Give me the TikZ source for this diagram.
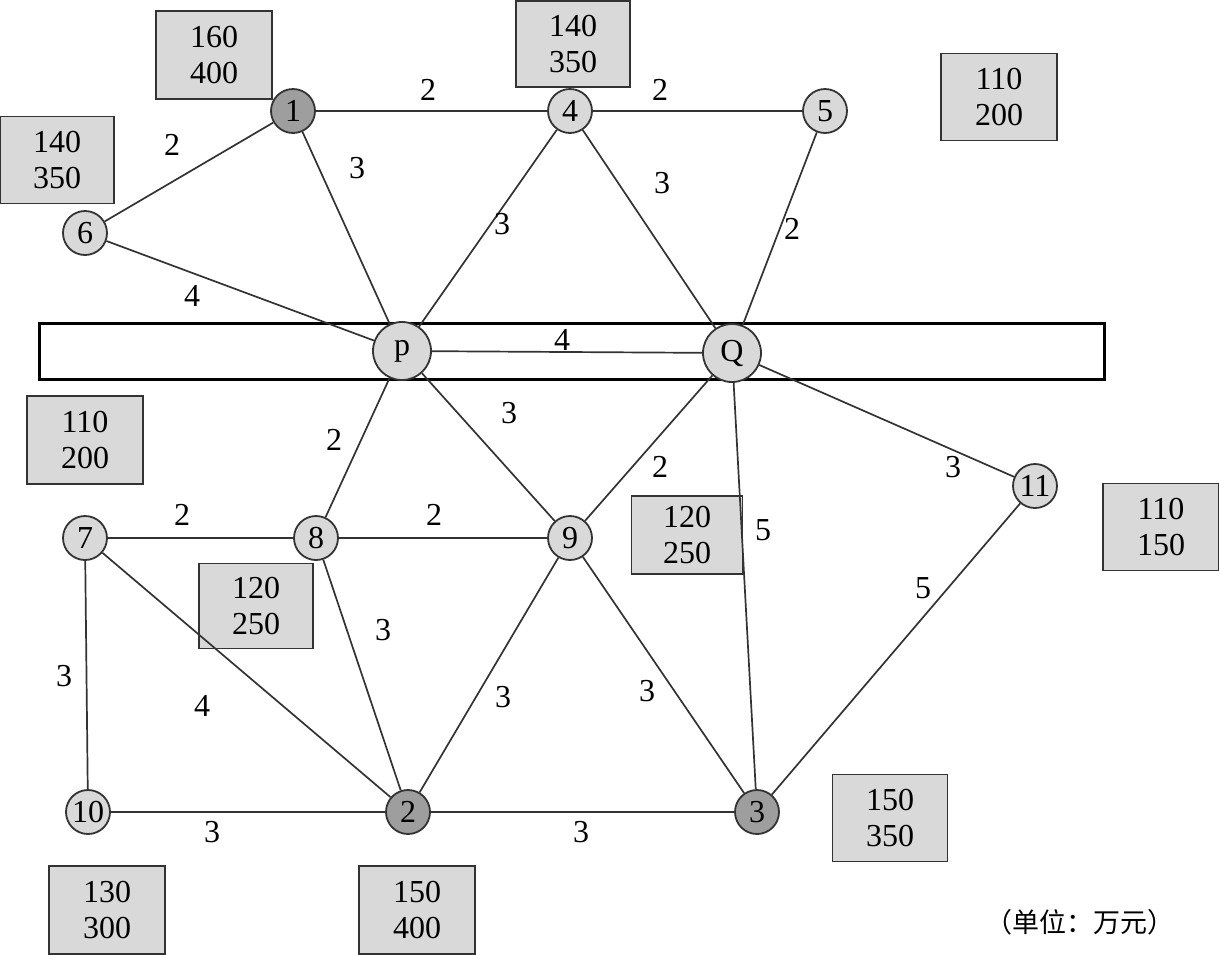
\documentclass[tikz,border=0pt]{standalone}
\usepackage{fontspec}
\setmainfont{Liberation Serif}
\newfontfamily\cjk{Noto Sans CJK SC}
\begin{document}
\begin{tikzpicture}[x=1pt,y=-1pt,
  lt/.style={circle,draw=black!80,line width=1.8pt,fill=black!15,minimum size=44pt,inner sep=0pt,font=\fontsize{32}{34}\selectfont},
  dk/.style={lt,fill=black!38},
  big/.style={lt,minimum size=58pt},
  vbox/.style={draw=black!80,line width=1.8pt,fill=black!15,inner sep=0pt,align=center,font=\fontsize{32}{36}\selectfont},
  edge/.style={draw=black!80,line width=1.7pt},
  lab/.style={font=\fontsize{32}{34}\selectfont,inner sep=0pt}]
\useasboundingbox (0,0) rectangle (1219,954);
% band
\node[draw=black,line width=3pt,minimum width=1065pt,minimum height=56pt,inner sep=0pt] (band) at (571.5,351) {};
% value boxes
\node[vbox,minimum width=116pt,minimum height=88pt] (b1) at (214,55) {160\\400};
\node[vbox,minimum width=114pt,minimum height=86pt] (b4) at (573,44) {140\\350};
\node[vbox,minimum width=116pt,minimum height=87pt] (b5) at (999,97) {110\\200};
\node[vbox,minimum width=114pt,minimum height=87pt] (b6) at (57,160) {140\\350};
\node[vbox,minimum width=116pt,minimum height=88pt] (b7) at (85,440) {110\\200};
\node[vbox,minimum width=111pt,minimum height=78pt] (b9) at (687,535) {120\\250};
\node[vbox,minimum width=116pt,minimum height=87pt] (b11) at (1161,527) {110\\150};
\node[vbox,minimum width=114pt,minimum height=85pt] (b8) at (256,606) {120\\250};
\node[vbox,minimum width=115pt,minimum height=87pt] (b3) at (890,818) {150\\350};
\node[vbox,minimum width=116pt,minimum height=88pt] (b10) at (107,910) {130\\300};
\node[vbox,minimum width=116pt,minimum height=88pt] (b2) at (417,910) {150\\400};
% nodes
\node[dk] (n1) at (293,111) {1};
\node[lt] (n4) at (570,111) {4};
\node[lt] (n5) at (825,111) {5};
\node[lt] (n6) at (85,233) {6};
\node[big] (p) at (402,351) {p};
\node[big] (Q) at (732,353) {Q};
\node[lt] (n7) at (85,538) {7};
\node[lt] (n8) at (316,538) {8};
\node[lt] (n9) at (570,538) {9};
\node[lt] (n11) at (1035,486) {11};
\node[lt] (n10) at (88,812) {10};
\node[dk] (n2) at (408,812) {2};
\node[dk] (n3) at (757,812) {3};
% edges
\draw[edge] (n1) -- (n4);
\draw[edge] (n4) -- (n5);
\draw[edge] (n6) -- (n1);
\draw[edge] (n1) -- (p);
\draw[edge] (n4) -- (p);
\draw[edge] (n4) -- (Q);
\draw[edge] (n5) -- (Q);
\draw[edge] (n6) -- (p);
\draw[edge] (p) -- (Q);
\draw[edge] (p) -- (n8);
\draw[edge] (p) -- (n9);
\draw[edge] (Q) -- (n9);
\draw[edge] (Q) -- (n3);
\draw[edge] (Q) -- (n11);
\draw[edge] (n7) -- (n8);
\draw[edge] (n8) -- (n9);
\draw[edge] (n8) -- (n2);
\draw[edge] (n7) -- (n2);
\draw[edge] (n7) -- (n10);
\draw[edge] (n9) -- (n2);
\draw[edge] (n9) -- (n3);
\draw[edge] (n11) -- (n3);
\draw[edge] (n10) -- (n2);
\draw[edge] (n2) -- (n3);
% edge labels
\node[lab] (l14) at (428,90) {2};
\node[lab] (l45) at (660,90) {2};
\node[lab] (l61) at (172,145) {2};
\node[lab] (l1p) at (357,168) {3};
\node[lab] (l4p) at (502,224) {3};
\node[lab] (l4Q) at (662,183) {3};
\node[lab] (l5Q) at (792,229) {2};
\node[lab] (l6p) at (192,296) {4};
\node[lab] (lpQ) at (562,340) {4};
\node[lab] (lp8) at (334,440) {2};
\node[lab] (lp9) at (509,413) {3};
\node[lab] (lQ9) at (660,467) {2};
\node[lab] (lQ3) at (763,530) {5};
\node[lab] (lQ11) at (953,467) {3};
\node[lab] (l78) at (182,515) {2};
\node[lab] (l89) at (434,515) {2};
\node[lab] (l82) at (383,630) {3};
\node[lab] (l72) at (202,706) {4};
\node[lab] (l710) at (64,676) {3};
\node[lab] (l92) at (503,697) {3};
\node[lab] (l93) at (647,691) {3};
\node[lab] (l113) at (923,588) {5};
\node[lab] (l102) at (212,832) {3};
\node[lab] (l23) at (581,832) {3};
\node[font=\cjk\fontsize{27}{29}\selectfont,inner sep=0pt] (unit) at (1080,922) {（单位：万元）};
\end{tikzpicture}
\end{document}
